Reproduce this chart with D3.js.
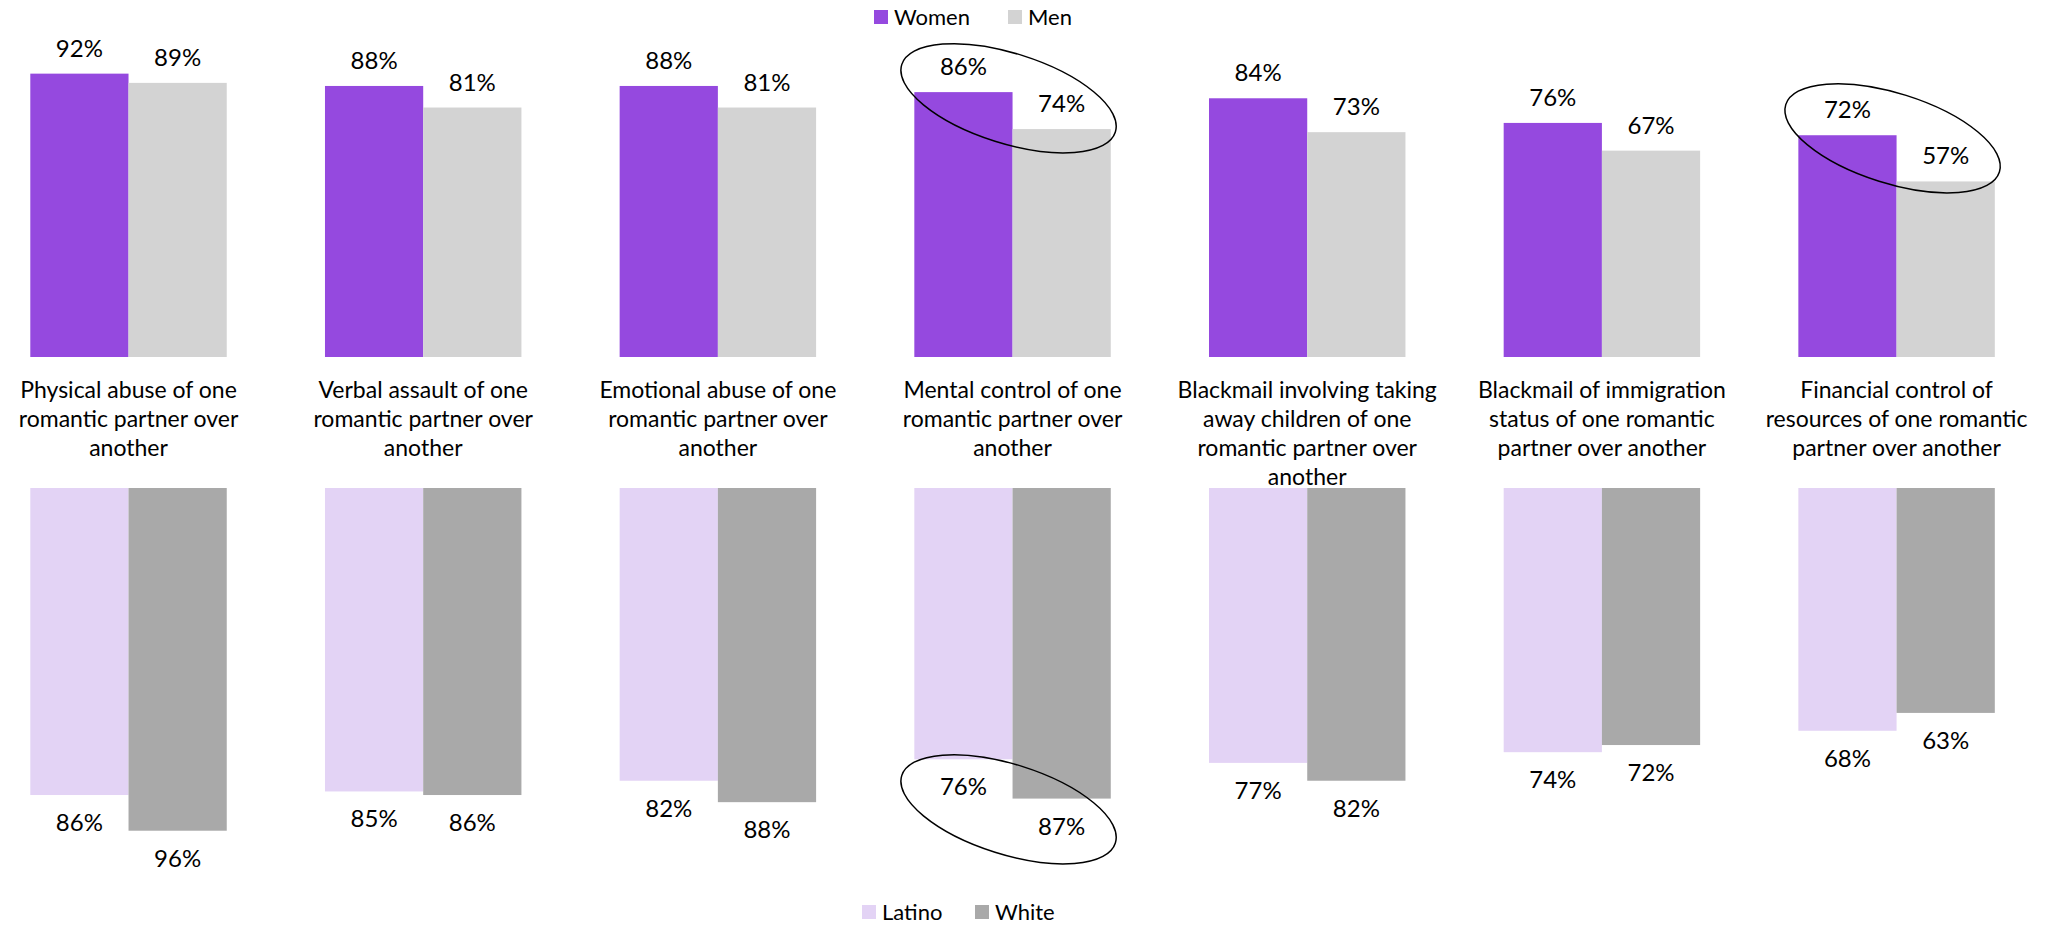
<!DOCTYPE html>
<html><head><meta charset="utf-8">
<script src="https://cdn.jsdelivr.net/npm/d3@7/dist/d3.min.js"></script>
<style>
html,body{margin:0;padding:0;background:#fff;}
text{font-family:Lato, "Noto Sans", sans-serif;fill:#000;}
</style></head>
<body>
<svg id="chart" width="2057" height="925"></svg>
<script>
const categories = [
  "Physical abuse of one romantic partner over another",
  "Verbal assault of one romantic partner over another",
  "Emotional abuse of one romantic partner over another",
  "Mental control of one romantic partner over another",
  "Blackmail involving taking away children of one romantic partner over another",
  "Blackmail of immigration status of one romantic partner over another",
  "Financial control of resources of one romantic partner over another"
];
const categoryLines = [
  ["Physical abuse of one", "romantic partner over", "another"],
  ["Verbal assault of one", "romantic partner over", "another"],
  ["Emotional abuse of one", "romantic partner over", "another"],
  ["Mental control of one", "romantic partner over", "another"],
  ["Blackmail involving taking", "away children of one", "romantic partner over", "another"],
  ["Blackmail of immigration", "status of one romantic", "partner over another"],
  ["Financial control of", "resources of one romantic", "partner over another"]
];
const women  = [92, 88, 88, 86, 84, 76, 72];
const men    = [89, 81, 81, 74, 73, 67, 57];
const latino = [86, 85, 82, 76, 77, 74, 68];
const white  = [96, 86, 88, 87, 82, 72, 63];
const topSeries = ["Women", "Men"];
const bottomSeries = ["Latino", "White"];
// highlighted pairs: [panel, category index, centre value]
const highlights = [["top", 3, 84], ["top", 6, 71], ["bottom", 3, 90]];

const colors = {Women:"#9549DF", Men:"#D3D3D3", Latino:"#E3D3F5", White:"#A9A9A9"};
const svg = d3.select("#chart");

const x = d3.scaleBand().domain(d3.range(categories.length)).range([30.3, 1994.8])
  .paddingInner(1/3).paddingOuter(0);
const xTop = d3.scaleBand().domain(topSeries).range([0, x.bandwidth()]);
const xBot = d3.scaleBand().domain(bottomSeries).range([0, x.bandwidth()]);
const yTop = d3.scaleLinear().domain([0, 100]).range([357, 49]);
const yBot = d3.scaleLinear().domain([0, 100]).range([488, 845]);

const topData = [];
categories.forEach((c, i) => {
  topData.push({i, key:"Women", v:women[i]});
  topData.push({i, key:"Men", v:men[i]});
});
const botData = [];
categories.forEach((c, i) => {
  botData.push({i, key:"Latino", v:latino[i]});
  botData.push({i, key:"White", v:white[i]});
});

// top bars
svg.append("g").selectAll("rect").data(topData).join("rect")
  .attr("x", d => x(d.i) + xTop(d.key))
  .attr("width", xTop.bandwidth())
  .attr("y", d => yTop(d.v))
  .attr("height", d => yTop(0) - yTop(d.v))
  .attr("fill", d => colors[d.key]);
svg.append("g").selectAll("text").data(topData).join("text")
  .attr("x", d => x(d.i) + xTop(d.key) + xTop.bandwidth()/2)
  .attr("y", d => yTop(d.v) - 17)
  .attr("text-anchor", "middle")
  .attr("font-size", 24)
  .text(d => d.v + "%");

// bottom bars
svg.append("g").selectAll("rect").data(botData).join("rect")
  .attr("x", d => x(d.i) + xBot(d.key))
  .attr("width", xBot.bandwidth())
  .attr("y", yBot(0))
  .attr("height", d => yBot(d.v) - yBot(0))
  .attr("fill", d => colors[d.key]);
svg.append("g").selectAll("text").data(botData).join("text")
  .attr("x", d => x(d.i) + xBot(d.key) + xBot.bandwidth()/2)
  .attr("y", d => yBot(d.v) + 36)
  .attr("text-anchor", "middle")
  .attr("font-size", 24)
  .text(d => d.v + "%");

// category labels
const lab = svg.append("g").selectAll("text").data(categoryLines).join("text")
  .attr("text-anchor", "middle")
  .attr("font-size", 23);
lab.each(function(lines, i) {
  d3.select(this).selectAll("tspan").data(lines).join("tspan")
    .attr("x", x(i) + x.bandwidth()/2)
    .attr("y", (d, j) => 398 + j * 29)
    .text(d => d);
});

// highlight ellipses
svg.append("g").selectAll("ellipse").data(highlights).join("ellipse")
  .attr("cx", 0).attr("cy", 0).attr("rx", 112).attr("ry", 45)
  .attr("transform", d => {
    const cx = x(d[1]) + x.bandwidth()/2 - 4;
    const cy = d[0] === "top" ? yTop(d[2]) : yBot(d[2]);
    return `translate(${cx},${cy}) rotate(17.5)`;
  })
  .attr("fill", "none").attr("stroke", "#000").attr("stroke-width", 1.5);

// legends
function legend(items, startX, positions, cy) {
  const g = svg.append("g");
  items.forEach((k, j) => {
    g.append("rect").attr("x", positions[j]).attr("y", cy - 7).attr("width", 14).attr("height", 14)
      .attr("fill", colors[k]);
    g.append("text").attr("x", positions[j] + 20).attr("y", cy + 8)
      .attr("font-size", 22).text(k);
  });
}
legend(topSeries, 0, [874, 1008], 17);
legend(bottomSeries, 0, [862, 975], 912);
</script>
</body></html>
